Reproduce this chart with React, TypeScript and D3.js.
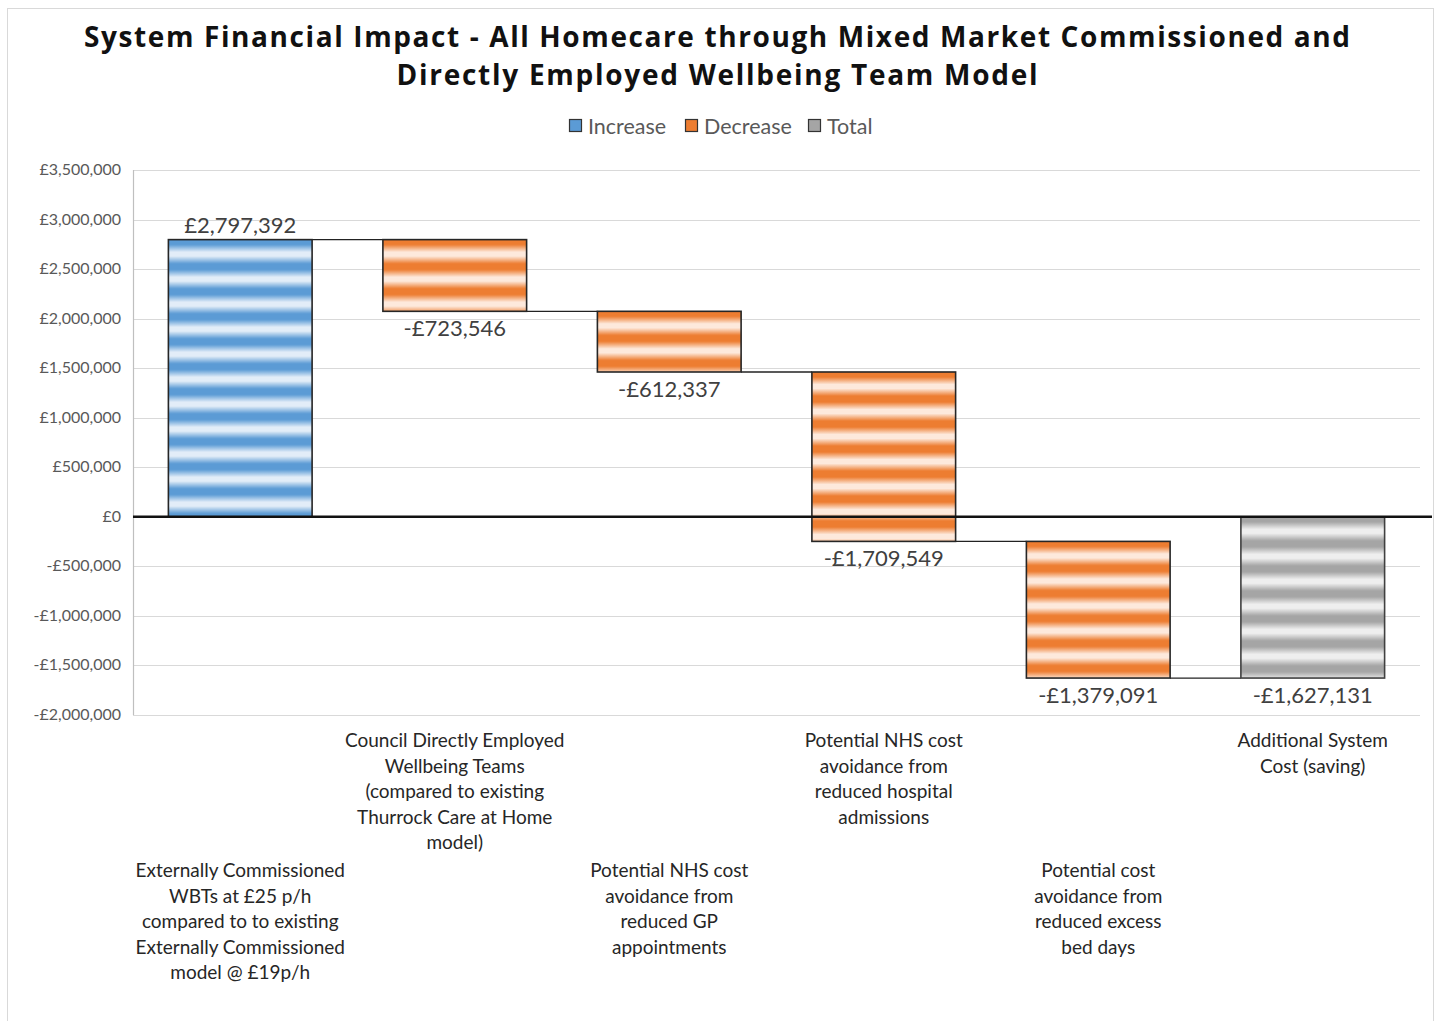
import React from "react";
import * as d3 from "d3";

const W = 1435;
const H = 1021;

const titleLines = [
  "System Financial Impact - All Homecare through Mixed Market Commissioned and",
  "Directly Employed Wellbeing Team Model",
];
const legendItems = ["Increase", "Decrease", "Total"];
const categories = [
  "Externally Commissioned\nWBTs at £25 p/h\ncompared to to existing\nExternally Commissioned\nmodel @ £19p/h",
  "Council Directly Employed\nWellbeing Teams\n(compared to existing\nThurrock Care at Home\nmodel)",
  "Potential NHS cost\navoidance from\nreduced GP\nappointments",
  "Potential NHS cost\navoidance from\nreduced hospital\nadmissions",
  "Potential cost\navoidance from\nreduced excess\nbed days",
  "Additional System\nCost (saving)",
];
const changes = [2797392, -723546, -612337, -1709549, -1379091, -1627131];
const kinds = ["Increase", "Decrease", "Decrease", "Decrease", "Decrease", "Total"];
const yTicks = [3500000, 3000000, 2500000, 2000000, 1500000, 1000000, 500000, 0, -500000, -1000000, -1500000, -2000000];

const palette: Record<string, { dark: string; light: string }> = {
  Increase: { dark: "#5b9bd5", light: "#e2edf8" },
  Decrease: { dark: "#ed7d31", light: "#fde9dc" },
  Total: { dark: "#a5a5a5", light: "#eeeeee" },
};

const fmt = (v: number) => (v < 0 ? "-£" : "£") + d3.format(",")(Math.abs(v));

export default function App() {
  const left = 133, right = 1420, top = 170, bottom = 715;
  const x = d3.scaleBand<number>().domain(d3.range(categories.length)).range([left, right]).paddingInner(0.33).paddingOuter(0.165);
  const y = d3.scaleLinear().domain([-2000000, 3500000]).range([bottom, top]);

  let run = 0;
  const bars = changes.map((c, i) => {
    let start: number, end: number;
    if (kinds[i] === "Total") {
      start = 0;
      end = c;
    } else {
      start = run;
      end = run + c;
      run = end;
    }
    return { i, start, end, value: c, kind: kinds[i] };
  });

  const stripe = 25;
  const font = "Lato, 'Open Sans', sans-serif";

  return (
    <svg width={W} height={H} style={{ display: "block", position: "absolute", left: 0, top: 0 }}>
      <defs>
        {Object.entries(palette).map(([k, p]) => (
          <linearGradient key={k} id={`g-${k}`} gradientUnits="userSpaceOnUse" x1="0" y1="0" x2="0" y2={stripe}>
            <stop offset="0" stopColor={p.dark} />
            <stop offset="0.12" stopColor={p.dark} />
            <stop offset="0.42" stopColor={p.light} />
            <stop offset="0.58" stopColor={p.light} />
            <stop offset="0.88" stopColor={p.dark} />
            <stop offset="1" stopColor={p.dark} />
          </linearGradient>
        ))}
        {bars.map((b) => {
          const yTop = y(Math.max(b.start, b.end));
          return (
            <pattern key={b.i} id={`p-${b.i}`} patternUnits="userSpaceOnUse" x={0} y={yTop + 2} width={10} height={stripe}>
              <rect width={10} height={stripe} fill={`url(#g-${b.kind})`} />
            </pattern>
          );
        })}
      </defs>
      <rect x={0} y={0} width={W} height={H} fill="#fff" />
      <rect x={7.5} y={8.5} width={1426} height={1030} fill="none" stroke="#d9d9d9" strokeWidth={1} />

      <text x={717} y={47} textAnchor="middle" fontFamily="'Open Sans', sans-serif" fontWeight={700} fontSize={28} fill="#111" textLength={1266} lengthAdjust="spacing">
        {titleLines[0]}
      </text>
      <text x={717} y={85} textAnchor="middle" fontFamily="'Open Sans', sans-serif" fontWeight={700} fontSize={28} fill="#111" textLength={641} lengthAdjust="spacing">
        {titleLines[1]}
      </text>

      {(() => {
        const starts = [569, 685, 808];
        return legendItems.map((k, i) => (
          <g key={k}>
            <rect x={starts[i] + 0.5} y={119.5} width={12} height={12} fill={palette[k].dark} stroke="#333" strokeWidth={1.2} />
            <text x={starts[i] + 19} y={133.5} fontFamily={font} fontSize={21.5} fill="#595959">{k}</text>
          </g>
        ));
      })()}

      {yTicks.map((t) => (
        <g key={t}>
          <line x1={left} x2={right} y1={Math.round(y(t)) + 0.5} y2={Math.round(y(t)) + 0.5} stroke="#d9d9d9" strokeWidth={1.2} />
          <text x={121} y={y(t) + 5} textAnchor="end" fontFamily={font} fontSize={16} fill="#595959">{fmt(t)}</text>
        </g>
      ))}
      <line x1={left + 0.5} x2={left + 0.5} y1={top} y2={bottom} stroke="#bfbfbf" strokeWidth={1.2} />

      {bars.slice(0, -1).map((b, i) => (
        <line key={`c${i}`} x1={x(i)! + x.bandwidth()} x2={x(i + 1)!} y1={y(b.end)} y2={y(b.end)} stroke="#222" strokeWidth={1.3} />
      ))}

      {bars.map((b) => {
        const y0 = y(Math.max(b.start, b.end));
        const y1 = y(Math.min(b.start, b.end));
        return (
          <rect key={b.i} x={x(b.i)!} y={y0} width={x.bandwidth()} height={y1 - y0} fill={`url(#p-${b.i})`} stroke={b.kind === "Total" ? "#404040" : "#262626"} strokeWidth={1.6} />
        );
      })}

      <line x1={left} x2={1432} y1={y(0)} y2={y(0)} stroke="#111" strokeWidth={2.4} />

      {bars.map((b) => {
        const cx = x(b.i)! + x.bandwidth() / 2;
        const ly = b.value >= 0 ? y(b.end) - 7 : y(Math.min(b.start, b.end)) + 25;
        return (
          <text key={`l${b.i}`} x={cx} y={ly} textAnchor="middle" fontFamily={font} fontSize={22} fill="#404040">{fmt(b.value)}</text>
        );
      })}

      {categories.map((c, i) => {
        const cx = x(i)! + x.bandwidth() / 2;
        const startY = i % 2 === 0 ? 877 : 747;
        return (
          <text key={`cat${i}`} textAnchor="middle" fontFamily={font} fontSize={19} fill="#262626">
            {c.split("\n").map((line, j) => (
              <tspan key={j} x={cx} y={startY + j * 25.6}>{line}</tspan>
            ))}
          </text>
        );
      })}
    </svg>
  );
}
